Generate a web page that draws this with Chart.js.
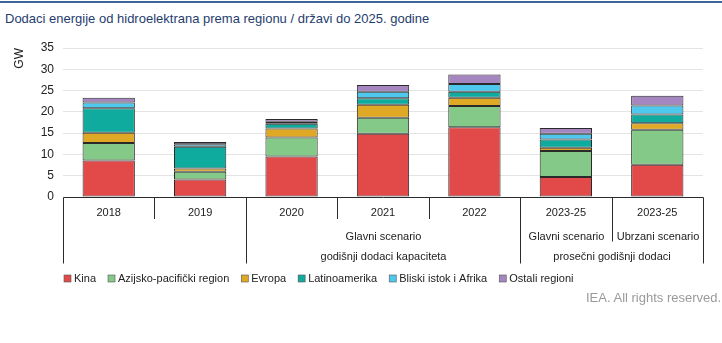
<!DOCTYPE html>
<html>
<head>
<meta charset="utf-8">
<script src="https://cdn.jsdelivr.net/npm/chart.js@4.4.0/dist/chart.umd.min.js"></script>
<style>
  body { margin: 0; background: #fff; font-family: "Liberation Sans", Arial, sans-serif; }
  #wrap { position: relative; width: 722px; height: 343px; overflow: hidden; }
  #rule { position: absolute; left: 0; top: 1px; width: 722px; height: 2px; background: #3a6797; }
  #title { position: absolute; left: 5px; top: 11px; font-size: 13px; color: #1f3d6e; white-space: nowrap; }
  #credit { position: absolute; left: 586px; top: 290px; font-size: 13px; color: #9a9a9a; white-space: nowrap; }
  canvas { position: absolute; left: 0; top: 0; }
</style>
</head>
<body>
<div id="wrap">
  <div id="rule"></div>
  <div id="title">Dodaci energije od hidroelektrana prema regionu / državi do 2025. godine</div>
  <canvas id="chart" width="722" height="343"></canvas>
  <div id="credit">IEA. All rights reserved.</div>
</div>
<script>
// categories on the x axis and the GW added per region
const categories = ['2018', '2019', '2020', '2021', '2022', '2023-25', '2023-25'];
const kina = [8.6, 4.1, 9.5, 14.85, 16.4, 4.7, 7.6];
const azijaPacifik = [4.1, 1.85, 4.5, 3.75, 5.0, 6.1, 8.2];
const evropa = [2.4, 0.75, 2.1, 3.05, 1.9, 0.75, 1.55];
const latinoamerika = [5.75, 5.1, 1.1, 1.55, 1.45, 1.95, 2.0];
const bliskiIstok = [1.35, 0.6, 0.5, 1.55, 1.8, 1.35, 2.15];
const ostali = [1.1, 0.5, 0.65, 1.55, 2.25, 1.35, 2.3];

const seriesNames = ['Kina', 'Azijsko-pacifički region', 'Evropa', 'Latinoamerika', 'Bliski istok i Afrika', 'Ostali regioni'];
const seriesColors = ['#e24a4a', '#84c987', '#e0a925', '#10ab9f', '#4fc8ee', '#a586c1'];

// second and third row of the category axis
const scenarioGroups = [
  { label: 'Glavni scenario', from: 2, to: 4 },
  { label: 'Glavni scenario', from: 5, to: 5 },
  { label: 'Ubrzani scenario', from: 6, to: 6 }
];
const periodGroups = [
  { label: '', from: 0, to: 1 },
  { label: 'godišnji dodaci kapaciteta', from: 2, to: 4 },
  { label: 'prosečni godišnji dodaci', from: 5, to: 6 }
];

const FONT = '"Liberation Sans", Arial, sans-serif';
const LINE = '#2b2b2b';

// draws the boxed multi-level category axis and the legend under it
const axisBoxes = {
  id: 'axisBoxes',
  afterDraw(chart) {
    const ctx = chart.ctx;
    const xs = chart.scales.x;
    const base = Math.round(chart.scales.y.getPixelForValue(0)) + 0.5;
    const half = (xs.getPixelForValue(1) - xs.getPixelForValue(0)) / 2;
    const edge = i => Math.round(xs.getPixelForValue(i) - half) + 0.5;
    const n = categories.length;
    const rowYear = base + 21.5, rowScen = base + 44, rowPeriod = base + 66;

    const periodEdges = new Set();
    periodGroups.forEach(g => { periodEdges.add(g.from); periodEdges.add(g.to + 1); });
    const scenEdges = new Set();
    scenarioGroups.forEach(g => { scenEdges.add(g.from); scenEdges.add(g.to + 1); });

    ctx.save();
    ctx.strokeStyle = LINE;
    ctx.lineWidth = 1;
    ctx.beginPath();
    ctx.moveTo(edge(0), base);
    ctx.lineTo(edge(n), base);
    for (let i = 0; i <= n; i++) {
      let bottom = rowYear;
      if (periodEdges.has(i)) bottom = rowPeriod;
      else if (scenEdges.has(i)) bottom = rowScen;
      ctx.moveTo(edge(i), base);
      ctx.lineTo(edge(i), bottom);
    }
    ctx.stroke();

    ctx.fillStyle = '#222';
    ctx.font = '11px ' + FONT;
    ctx.textAlign = 'center';
    ctx.textBaseline = 'middle';
    categories.forEach((c, i) => ctx.fillText(c, xs.getPixelForValue(i), base + 15.5));
    scenarioGroups.forEach(g => {
      ctx.fillText(g.label, (edge(g.from) + edge(g.to + 1)) / 2, base + 39.5);
    });
    periodGroups.forEach(g => {
      ctx.fillText(g.label, (edge(g.from) + edge(g.to + 1)) / 2, base + 59.5);
    });

    // legend
    let x = 64;
    const ly = base + 81;
    ctx.textAlign = 'left';
    chart.data.datasets.forEach(ds => {
      ctx.fillStyle = ds.backgroundColor;
      ctx.fillRect(x, ly - 3.5, 7, 7);
      ctx.strokeStyle = '#555';
      ctx.lineWidth = 0.6;
      ctx.strokeRect(x, ly - 3.5, 7, 7);
      ctx.fillStyle = '#222';
      ctx.fillText(ds.label, x + 10, ly);
      x += 10 + ctx.measureText(ds.label).width + 12;
    });
    ctx.restore();
  }
};

const seriesValues = [kina, azijaPacifik, evropa, latinoamerika, bliskiIstok, ostali];

new Chart(document.getElementById('chart'), {
  type: 'bar',
  data: {
    labels: categories,
    datasets: seriesValues.map((vals, i) => ({
      label: seriesNames[i],
      data: vals,
      backgroundColor: seriesColors[i],
      borderColor: '#2a2a2a',
      borderWidth: 1,
      borderSkipped: false,
      categoryPercentage: 1,
      barPercentage: 0.572
    }))
  },
  options: {
    responsive: false,
    animation: false,
    layout: { padding: { top: 48, right: 19, left: 0, bottom: 0 } },
    plugins: { legend: { display: false }, tooltip: { enabled: false } },
    scales: {
      x: {
        stacked: true,
        grid: { display: false },
        border: { display: false },
        ticks: { display: false },
        afterFit: s => { s.height = 146; }
      },
      y: {
        stacked: true,
        min: 0,
        max: 35,
        ticks: { stepSize: 5, padding: 9, color: '#222', font: { family: FONT, size: 12 } },
        grid: { color: '#e4e4e4', lineWidth: 1, drawTicks: false },
        border: { display: false },
        title: { display: true, text: 'GW', align: 'end', color: '#222', font: { family: FONT, size: 12 }, padding: { top: 12, bottom: 0 } },
        afterFit: s => { s.width = 63; }
      }
    }
  },
  plugins: [axisBoxes]
});
</script>
</body>
</html>
